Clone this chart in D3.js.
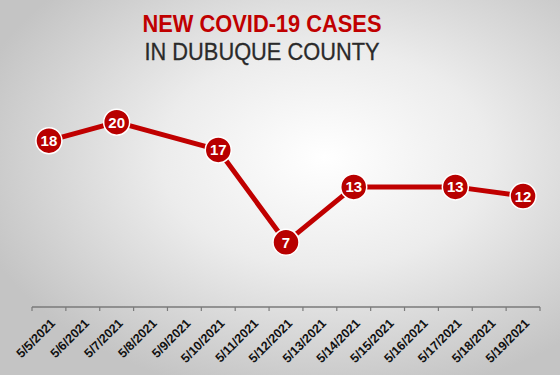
<!DOCTYPE html>
<html>
<head>
<meta charset="utf-8">
<script src="https://cdn.jsdelivr.net/npm/d3@7"></script>
<style>
  body { margin: 0; }
  svg { display: block; font-family: "Liberation Sans", Arial, sans-serif; }
</style>
</head>
<body>
<div id="chart"></div>
<script>
// chart data
const dates = ["5/5/2021", "5/6/2021", "5/7/2021", "5/8/2021", "5/9/2021", "5/10/2021",
    "5/11/2021", "5/12/2021", "5/13/2021", "5/14/2021", "5/15/2021", "5/16/2021",
    "5/17/2021", "5/18/2021", "5/19/2021"];
const pointDates = ["5/5/2021", "5/7/2021", "5/10/2021", "5/12/2021", "5/14/2021", "5/17/2021", "5/19/2021"];
const cases = [18, 20, 17, 7, 13, 13, 12];
const titleLines = ["NEW COVID-19 CASES", "IN DUBUQUE COUNTY"];

const svgWidth = 560;
const svgHeight = 375;
const margins = { top: 76, right: 20, bottom: 68, left: 32 };
const chartWidth = 508;
const chartHeight = svgHeight - margins.top - margins.bottom;

const red = "#c00000";

const svg = d3.select("#chart")
    .append("svg")
    .attr("width", svgWidth)
    .attr("height", svgHeight);

// background gradient
const grad = svg.append("defs").append("radialGradient")
    .attr("id", "bg")
    .attr("cx", "58%").attr("cy", "42%")
    .attr("r", "65%");
grad.append("stop").attr("offset", "0%").attr("stop-color", "#ffffff");
grad.append("stop").attr("offset", "45%").attr("stop-color", "#ececec");
grad.append("stop").attr("offset", "100%").attr("stop-color", "#c4c4c4");

svg.append("rect")
    .attr("width", svgWidth)
    .attr("height", svgHeight)
    .attr("fill", "url(#bg)");

// title
svg.append("text")
    .attr("x", 262).attr("y", 32)
    .attr("text-anchor", "middle")
    .attr("font-size", 24).attr("font-weight", "bold")
    .attr("fill", red)
    .attr("textLength", 239).attr("lengthAdjust", "spacingAndGlyphs")
    .text(titleLines[0]);

svg.append("text")
    .attr("x", 262).attr("y", 59.5)
    .attr("text-anchor", "middle")
    .attr("font-size", 24)
    .attr("fill", "#2a2a2a")
    .attr("stroke", "#2a2a2a").attr("stroke-width", 0.3)
    .attr("textLength", 235).attr("lengthAdjust", "spacingAndGlyphs")
    .text(titleLines[1]);

const chartGroup = svg.append("g")
    .attr("transform", `translate(${margins.left}, ${margins.top})`);

const xScale = d3.scaleBand()
    .domain(dates)
    .range([0, chartWidth]);

const yScale = d3.scaleLinear()
    .domain([0, 25])
    .range([chartHeight, 0]);

// x axis: ticks between categories
const xAxis = chartGroup.append("g")
    .attr("transform", `translate(0, ${chartHeight})`);

xAxis.append("line")
    .attr("x1", 0).attr("x2", chartWidth)
    .attr("stroke", "#7a7a7a").attr("stroke-width", 1.5);

const tickPos = dates.map(d => xScale(d)).concat([chartWidth]);
xAxis.selectAll(".tick")
    .data(tickPos)
    .enter()
    .append("line")
    .attr("x1", d => d).attr("x2", d => d)
    .attr("y1", 0).attr("y2", 4)
    .attr("stroke", "#7a7a7a").attr("stroke-width", 1.2);

xAxis.selectAll(".lbl")
    .data(dates)
    .enter()
    .append("text")
    .attr("transform", d => `translate(${xScale(d) + xScale.bandwidth() / 2 + 4}, 14) rotate(-45)`)
    .attr("text-anchor", "end")
    .attr("dy", "0.35em")
    .attr("font-size", 12.5)
    .attr("font-weight", "bold")
    .attr("fill", "#111")
    .text(d => d);

// line + points
const points = pointDates.map((d, i) => ({ date: d, value: cases[i] }));

const line = d3.line()
    .x(d => xScale(d.date) + xScale.bandwidth() / 2)
    .y(d => yScale(d.value));

chartGroup.append("path")
    .datum(points)
    .attr("d", line)
    .attr("fill", "none")
    .attr("stroke", red)
    .attr("stroke-width", 5)
    .attr("stroke-linejoin", "round");

chartGroup.selectAll("circle")
    .data(points)
    .enter()
    .append("circle")
    .attr("cx", d => xScale(d.date) + xScale.bandwidth() / 2)
    .attr("cy", d => yScale(d.value))
    .attr("r", 13)
    .attr("fill", "#b80000")
    .attr("stroke", "#ffffff")
    .attr("stroke-width", 1.5);

chartGroup.selectAll(".val")
    .data(points)
    .enter()
    .append("text")
    .attr("x", d => xScale(d.date) + xScale.bandwidth() / 2)
    .attr("y", d => yScale(d.value))
    .attr("dy", "0.36em")
    .attr("text-anchor", "middle")
    .attr("font-size", 15)
    .attr("font-weight", "bold")
    .attr("fill", "#ffffff")
    .text(d => d.value);
</script>
</body>
</html>
